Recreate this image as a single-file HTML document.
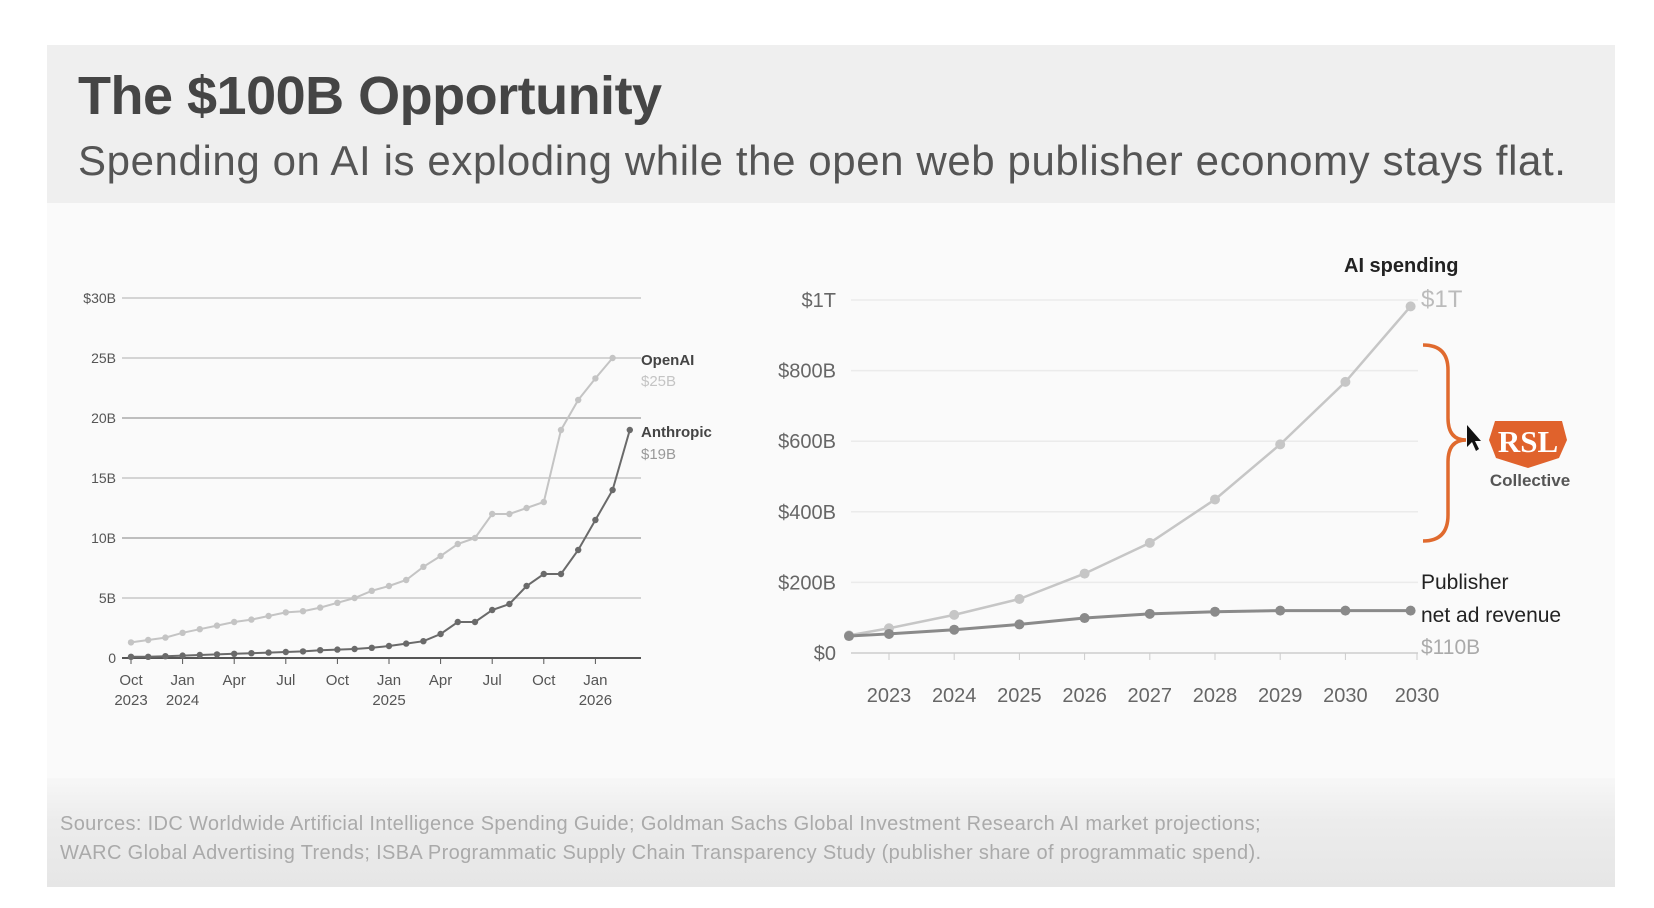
<!DOCTYPE html>
<html><head><meta charset="utf-8">
<style>
html,body{margin:0;padding:0;background:#fff;}
svg{display:block;font-family:"Liberation Sans",Arial,sans-serif;}
</style></head>
<body>
<svg id="s" width="1654" height="908" viewBox="0 0 1654 908">
<defs>
<linearGradient id="fg" x1="0" y1="0" x2="0" y2="1">
<stop offset="0" stop-color="#f7f7f7"/><stop offset="0.4" stop-color="#ececec"/><stop offset="1" stop-color="#e6e6e6"/>
</linearGradient>
</defs>
<rect x="47" y="45" width="1568" height="842" fill="#fafafa"/>
<rect x="47" y="45" width="1568" height="158" fill="#efefef"/>
<rect x="47" y="778" width="1568" height="109" fill="url(#fg)"/>
<text x="78" y="114" font-size="54" font-weight="bold" fill="#454545" letter-spacing="-0.5">The $100B Opportunity</text>
<text x="78" y="175" font-size="42" fill="#555" letter-spacing="0.6">Spending on AI is exploding while the open web publisher economy stays flat.</text>
<text x="60" y="830" font-size="20" fill="#aaa" letter-spacing="0.35">Sources: IDC Worldwide Artificial Intelligence Spending Guide; Goldman Sachs Global Investment Research AI market projections;</text>
<text x="60" y="859" font-size="20" fill="#aaa" letter-spacing="0.35">WARC Global Advertising Trends; ISBA Programmatic Supply Chain Transparency Study (publisher share of programmatic spend).</text>
<g id="left"></g>
<g id="right"></g>
</svg>
<script>
// Left chart data (monthly, $B)
const leftYTicks = [0, 5, 10, 15, 20, 25, 30];
const leftYLabels = ["0", "5B", "10B", "15B", "20B", "25B", "$30B"];
const leftXTickMonths = [0, 3, 6, 9, 12, 15, 18, 21, 24, 27];
const leftXTickTop = ["Oct", "Jan", "Apr", "Jul", "Oct", "Jan", "Apr", "Jul", "Oct", "Jan"];
const leftXTickBottom = ["2023", "2024", "", "", "", "2025", "", "", "", "2026"];
const openaiValues = [1.3,1.5,1.7,2.1,2.4,2.7,3.0,3.2,3.5,3.8,3.9,4.2,4.6,5.0,5.6,6.0,6.5,7.6,8.5,9.5,10.0,12.0,12.0,12.5,13.0,19.0,21.5,23.3,25.0];
const anthropicValues = [0.1,0.1,0.15,0.2,0.25,0.3,0.35,0.4,0.45,0.5,0.55,0.65,0.7,0.75,0.85,1.0,1.2,1.4,2.0,3.0,3.0,4.0,4.5,6.0,7.0,7.0,9.0,11.5,14.0,19.0];
// Right chart data ($B)
const rightYTicks = [0, 200, 400, 600, 800, 1000];
const rightYLabels = ["$0", "$200B", "$400B", "$600B", "$800B", "$1T"];
const rightXLabels = ["2023","2024","2025","2026","2027","2028","2029","2030","2030"];
const aiSpending = [50, 70, 108, 153, 225, 312, 435, 591, 768, 982];
const publisherRevenue = [48, 54, 66, 81, 99, 111, 117, 120, 120, 120];

const NS = "http://www.w3.org/2000/svg";
function mk(parent, tag, attrs, text){
  const e = document.createElementNS(NS, tag);
  for (const k in attrs) e.setAttribute(k, attrs[k]);
  if (text !== undefined) e.textContent = text;
  parent.appendChild(e);
  return e;
}
// ---- left chart
const L = document.getElementById('left');
const lx = m => 131 + m * 17.2;
const ly = v => 658 - v * 12;
leftYTicks.forEach((t, i) => {
  const g = mk(L, 'line', {x1:122, x2:641, y1:ly(t), y2:ly(t), stroke: t===0 ? '#555' : (t%10===0 && t>0 && t<30 ? '#aaa' : '#c8c8c8'), 'stroke-width': t===0 ? 2 : 1.6});
  
  
  const tx = mk(L, 'text', {x:116, y:ly(t)+5, 'text-anchor':'end', 'font-size':14, fill:'#555'}, leftYLabels[i]);
  
  
});
leftXTickMonths.forEach((m, i) => {
  const tk = mk(L, 'line', {x1:lx(m), x2:lx(m), y1:658, y2:664, stroke:'#555', 'stroke-width':1});
  
  
  const t1 = mk(L, 'text', {x:lx(m), y:685, 'text-anchor':'middle', 'font-size':15, fill:'#555'}, leftXTickTop[i]);
  
  
  if (leftXTickBottom[i]) {
    const t2 = mk(L, 'text', {x:lx(m), y:705, 'text-anchor':'middle', 'font-size':15, fill:'#555'}, leftXTickBottom[i]);
    
    
  }
});
function series(parent, vals, xf, yf, color, w, r, name){
  const p = mk(parent, 'polyline', {points: vals.map((v,i)=>xf(i)+','+yf(v)).join(' '), fill:'none', stroke:color, 'stroke-width':w});
  
  
  vals.forEach((v,i)=>{
    const c = mk(parent, 'circle', {cx:xf(i), cy:yf(v), r:r, fill:color});
    
    
  });
}
series(L, openaiValues, lx, ly, '#c4c4c4', 2, 3.2, 'openai');
series(L, anthropicValues, lx, ly, '#6a6a6a', 2, 3.2, 'anthropic');
const lo = [['OpenAI',641,365,'#444',true],['$25B',641,386,'#c4c4c4',false],['Anthropic',641,437,'#444',true],['$19B',641,459,'#999',false]];
lo.forEach(a=>{
  const t = mk(L, 'text', {x:a[1], y:a[2], 'font-size':15, fill:a[3], 'font-weight': a[4]?'bold':'normal'}, a[0]);
  
  
});
// ---- right chart
const R = document.getElementById('right');
const rx = i => i === 0 ? 849 : 889 + (i - 1) * 65.2;
const ry = v => 653 - v * 0.353;
rightYTicks.forEach((t, i) => {
  const g = mk(R, 'line', {x1:851, x2:1418, y1:ry(t), y2:ry(t), stroke: t===0 ? '#ccc' : '#ebebeb', 'stroke-width':1.5});
  
  
  const tx = mk(R, 'text', {x:836, y:ry(t)+7, 'text-anchor':'end', 'font-size':20, fill:'#666'}, rightYLabels[i]);
  
  
});
rightXLabels.forEach((l, i) => {
  const x = i === 8 ? 1417 : rx(i+1);
  const tk = mk(R, 'line', {x1:x, x2:x, y1:653, y2:660, stroke:'#ccc', 'stroke-width':1});
  
  
  const t = mk(R, 'text', {x:x, y:702, 'text-anchor':'middle', 'font-size':20, fill:'#666'}, l);
  
  
});
series(R, aiSpending, rx, ry, '#c6c6c6', 2.5, 5, 'ai-spending');
series(R, publisherRevenue, rx, ry, '#8a8a8a', 3, 5, 'publisher-revenue');
const ro = [['AI spending',1344,272,20,'#222','bold'],['$1T',1421,307,24,'#bbb','normal'],['Publisher',1421,589,21,'#222','normal'],['net ad revenue',1421,622,21,'#222','normal'],['$110B',1421,654,21,'#aaa','normal']];
ro.forEach(a=>{
  const t = mk(R, 'text', {x:a[1], y:a[2], 'font-size':a[3], fill:a[4], 'font-weight':a[5]}, a[0]);
  
  
});
// brace
const br = mk(R, 'path', {d:'M1423,345 Q1448,345 1448,370 L1448,418 Q1448,440 1466,440 Q1448,440 1448,462 L1448,515 Q1448,541 1423,541', fill:'none', stroke:'#e06a2e', 'stroke-width':3.5});


// RSL badge
const bd = mk(R, 'polygon', {points:'1495,421 1562,421 1567,440 1559,458 1528,468 1496,458 1489,440', fill:'#e0622c'});


const bt = mk(R, 'text', {x:1528, y:452, 'text-anchor':'middle', 'font-size':31, 'font-weight':'bold', fill:'#fff', 'font-family':'"Liberation Serif",serif'}, 'RSL');


const ct = mk(R, 'text', {x:1530, y:486, 'text-anchor':'middle', 'font-size':17, 'font-weight':'bold', fill:'#555'}, 'Collective');


const cur = mk(R, 'path', {d:'M1467,425 L1467,447 L1472,442 L1476,451 L1479,449 L1475,441 L1481,441 Z', fill:'#111'});


</script>
</body></html>
